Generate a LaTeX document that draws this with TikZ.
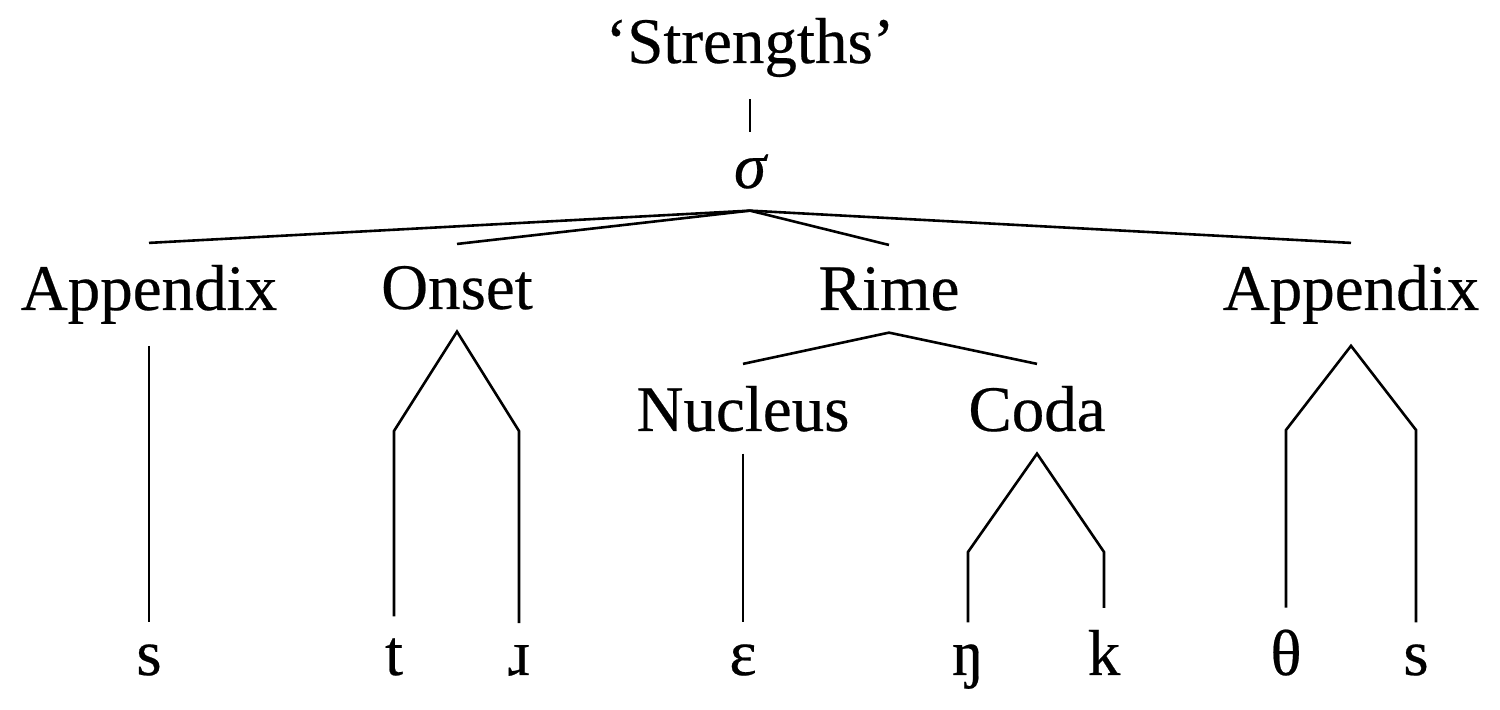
\documentclass[tikz,border=0pt]{standalone}
\usepackage{fontspec}
\setmainfont{Liberation Serif}[FakeBold=0.35]
\begin{document}
\begin{tikzpicture}[x=0.5pt,y=-0.5pt,
  lbl/.style={anchor=base,inner sep=11pt,outer sep=0pt,font=\fontsize{32.5}{39}\selectfont},
  edge/.style={line width=1.3pt,line join=miter}]
\useasboundingbox (0,0) rectangle (1500,710);
% nodes
\node[lbl] (top)  at (750,63)   {‘Strengths’};
\node[lbl] (sig)  at (750,188)  {\itshape σ};
\node[lbl] (appL) at (149,310)  {Appendix};
\node[lbl] (ons)  at (457,309)  {Onset};
\node[lbl] (rime) at (889,310)  {Rime};
\node[lbl] (appR) at (1351,310) {Appendix};
\node[lbl] (nuc)  at (743,431)  {Nucleus};
\node[lbl] (coda) at (1037,431) {Coda};
\node[lbl] (s1)   at (149,675)  {s};
\node[lbl] (t)    at (394,675)  {t};
\node[lbl] (r)    at (519,675)  {ɹ};
\node[lbl] (eps)  at (743,675)  {ɛ};
\node[lbl] (ng)   at (968,675)  {ŋ};
\node[lbl] (k)    at (1104,675) {k};
\node[lbl] (th)   at (1286,675) {θ};
\node[lbl] (s2)   at (1416,675) {s};
% kink points
\coordinate (ok1) at (394,431);
\coordinate (ok2) at (519,431);
\coordinate (ck1) at (968,552);
\coordinate (ck2) at (1104,552);
\coordinate (ak1) at (1286,430);
\coordinate (ak2) at (1416,430);
% edges
\draw[edge] (top.south) -- (sig.north);
\draw[edge] (sig.south) -- (appL.north);
\draw[edge] (sig.south) -- (ons.north);
\draw[edge] (sig.south) -- (rime.north);
\draw[edge] (sig.south) -- (appR.north);
\draw[edge] (appL.south) -- (s1.north);
\draw[edge] (t.north) -- (ok1) -- (ons.south) -- (ok2) -- (r.north);
\draw[edge] (rime.south) -- (nuc.north);
\draw[edge] (rime.south) -- (coda.north);
\draw[edge] (nuc.south) -- (eps.north);
\draw[edge] (ng.north) -- (ck1) -- (coda.south) -- (ck2) -- (k.north);
\draw[edge] (th.north) -- (ak1) -- (appR.south) -- (ak2) -- (s2.north);
\end{tikzpicture}
\end{document}
